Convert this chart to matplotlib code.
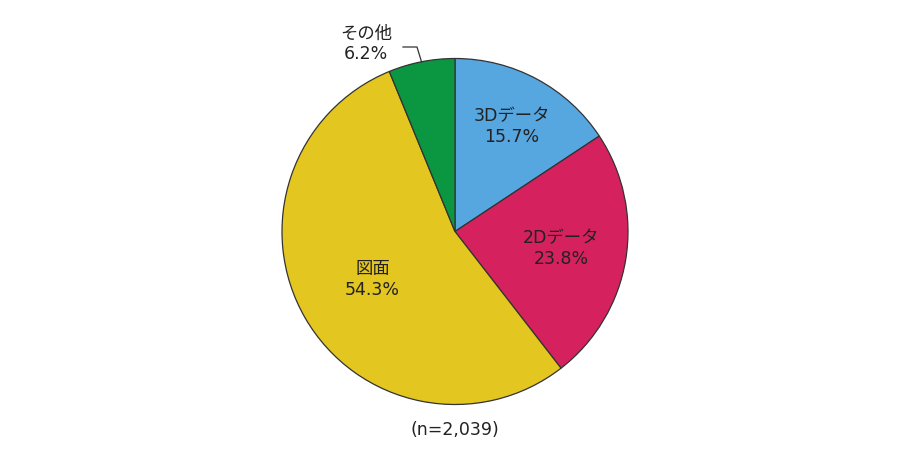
import numpy as np
import matplotlib.pyplot as plt

plt.rcParams['font.family'] = ['DejaVu Sans', 'Noto Sans CJK JP']

# data
labels = ['3Dデータ', '2Dデータ', '図面', 'その他']
shares = [15.7, 23.8, 54.3, 6.2]
colors = ['#56a6e0', '#d6215f', '#e3c61f', '#0b9641']
n_text = '(n=2,039)'

# label radius as fraction of pie radius (inside slices)
label_r = [0.69, 0.62, 0.55, None]

fig = plt.figure(figsize=(9, 4.5), dpi=100)
ax = fig.add_axes([0, 0, 1, 1])

cx, cy, R = 455, 450 - 231.5, 173
wedges, _ = ax.pie(shares, colors=colors, startangle=90, counterclock=False,
                   center=(cx, cy), radius=R, frame=True,
                   wedgeprops=dict(edgecolor='#333333', linewidth=0.9))
ax.set_xlim(0, 900)
ax.set_ylim(0, 450)
ax.axis('off')

for w, lab, val, fr in zip(wedges, labels, shares, label_r):
    mid = np.deg2rad((w.theta1 + w.theta2) / 2)
    if fr is not None:
        x = cx + fr * R * np.cos(mid)
        y = cy + fr * R * np.sin(mid)
        ax.text(x, y, f'{lab}\n{val}%', ha='center', va='center',
                fontsize=12.5, color='#222222', linespacing=1.2)
    else:
        # outside label with leader line
        ex = cx + R * np.cos(mid)
        ey = cy + R * np.sin(mid)
        ax.plot([403, 417, ex], [450 - 47, 450 - 47, ey], color='#333333', lw=0.9)
        ax.text(366, 450 - 44, f'{lab}\n{val}%', ha='center', va='center',
                fontsize=12.5, color='#222222', linespacing=1.2)

ax.text(cx, 450 - 430, n_text, ha='center', va='center', fontsize=12.5, color='#222222')

fig.savefig('out.png', dpi=100)
